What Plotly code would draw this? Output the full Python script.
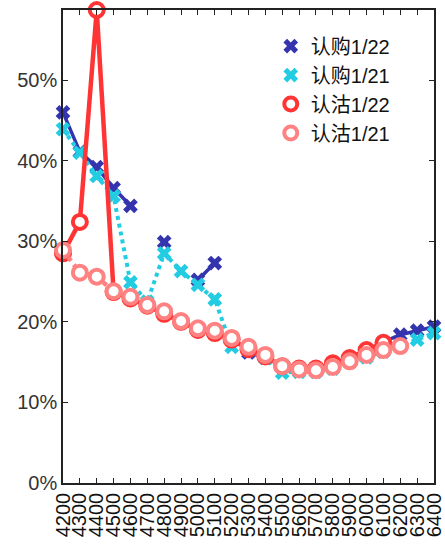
import plotly.graph_objects as go

strikes = [4200, 4300, 4400, 4500, 4600, 4700, 4800, 4900, 5000, 5100, 5200,
           5300, 5400, 5500, 5600, 5700, 5800, 5900, 6000, 6100, 6200, 6300, 6400]
tick_labels = [str(s) for s in strikes]

call_0122 = [0.460, 0.411, 0.392, 0.366, 0.344, None, 0.299, None, 0.252, 0.273, None,
             0.162, 0.156, 0.145, 0.142, 0.142, 0.146, 0.153, 0.162, 0.175, 0.184, 0.189, 0.194]
call_0121 = [0.439, 0.410, 0.381, 0.356, 0.249, 0.225, 0.285, 0.263, 0.246, 0.228, 0.169,
             0.165, 0.155, 0.137, 0.138, 0.138, 0.142, 0.150, 0.156, 0.163, 0.171, 0.178, 0.186]
put_0122 = [0.285, 0.324, 0.587, 0.237, 0.229, 0.220, 0.210, 0.200, 0.190, 0.186, 0.178,
            0.166, 0.157, 0.145, 0.142, 0.142, 0.1485, 0.155, 0.165, 0.174, None, None, None]
put_0121 = [0.289, 0.261, 0.256, 0.238, 0.231, 0.221, 0.213, 0.201, 0.192, 0.189, 0.180,
            0.169, 0.159, 0.145, 0.141, 0.140, 0.144, 0.151, 0.159, 0.165, 0.170, None, None]

names = ["认购1/22", "认购1/21", "认沽1/22", "认沽1/21"]
colors = ["#3434AE", "#22CCE2", "#FF3535", "#FF8282"]

FONT = "Liberation Sans, Arial, Noto Sans CJK SC"

fig = go.Figure()

# data traces
fig.add_trace(go.Scatter(x=strikes, y=call_0122, mode="lines+markers",
                         line=dict(color=colors[0], width=3.5),
                         marker=dict(symbol="x", size=13, color=colors[0],
                                     line=dict(width=0)),
                         showlegend=False, cliponaxis=False))
fig.add_trace(go.Scatter(x=strikes, y=call_0121, mode="lines+markers",
                         line=dict(color=colors[1], width=4, dash="dot"),
                         marker=dict(symbol="x", size=13, color=colors[1],
                                     line=dict(width=0)),
                         showlegend=False, cliponaxis=False))
fig.add_trace(go.Scatter(x=strikes, y=put_0122, mode="lines+markers",
                         line=dict(color=colors[2], width=4.5),
                         marker=dict(symbol="circle", size=14, color="white",
                                     line=dict(color=colors[2], width=4)),
                         showlegend=False, cliponaxis=False))
fig.add_trace(go.Scatter(x=strikes, y=put_0121, mode="lines+markers",
                         line=dict(color=colors[3], width=4.5, dash="dot"),
                         marker=dict(symbol="circle", size=14, color="white",
                                     line=dict(color=colors[3], width=4)),
                         showlegend=False, cliponaxis=False))

# legend-only entries (markers only, as in the reference)
legend_markers = [
    dict(symbol="x", size=13, color=colors[0], line=dict(width=0)),
    dict(symbol="x", size=13, color=colors[1], line=dict(width=0)),
    dict(symbol="circle", size=13, color="white", line=dict(color=colors[2], width=4)),
    dict(symbol="circle", size=13, color="white", line=dict(color=colors[3], width=4)),
]
for n, m in zip(names, legend_markers):
    fig.add_trace(go.Scatter(x=[None], y=[None], mode="markers", name=n,
                             marker=m, showlegend=True))

fig.update_layout(
    width=445, height=545,
    margin=dict(l=63, r=11, t=10, b=62),
    paper_bgcolor="white", plot_bgcolor="white",
    font=dict(family=FONT, color="#222222"),
    legend=dict(x=0.56, y=0.965, xanchor="left", yanchor="top",
                bgcolor="rgba(0,0,0,0)", font=dict(size=20, family=FONT, color="#111111"),
                tracegroupgap=0, itemwidth=30),
    xaxis=dict(range=[4200, 6400], tickvals=strikes, ticktext=tick_labels,
               tickangle=-90, tickfont=dict(size=20, family=FONT, color="#111111"),
               ticks="inside", ticklen=5, tickcolor="#222222", automargin=False,
               showline=True, linecolor="#222222", linewidth=1.5, mirror="ticks",
               showgrid=False, zeroline=False),
    yaxis=dict(range=[0, 0.587], tickvals=[0, 0.1, 0.2, 0.3, 0.4, 0.5],
               tickformat=".0%", tickfont=dict(size=20, family=FONT, color="#333333"),
               ticks="inside", ticklen=5, tickcolor="#222222", automargin=False,
               showline=True, linecolor="#222222", linewidth=1.5, mirror="ticks",
               showgrid=False, zeroline=False),
)

fig.write_html("out.html", config={"displayModeBar": False},
               post_script="document.body.style.margin='0';")
